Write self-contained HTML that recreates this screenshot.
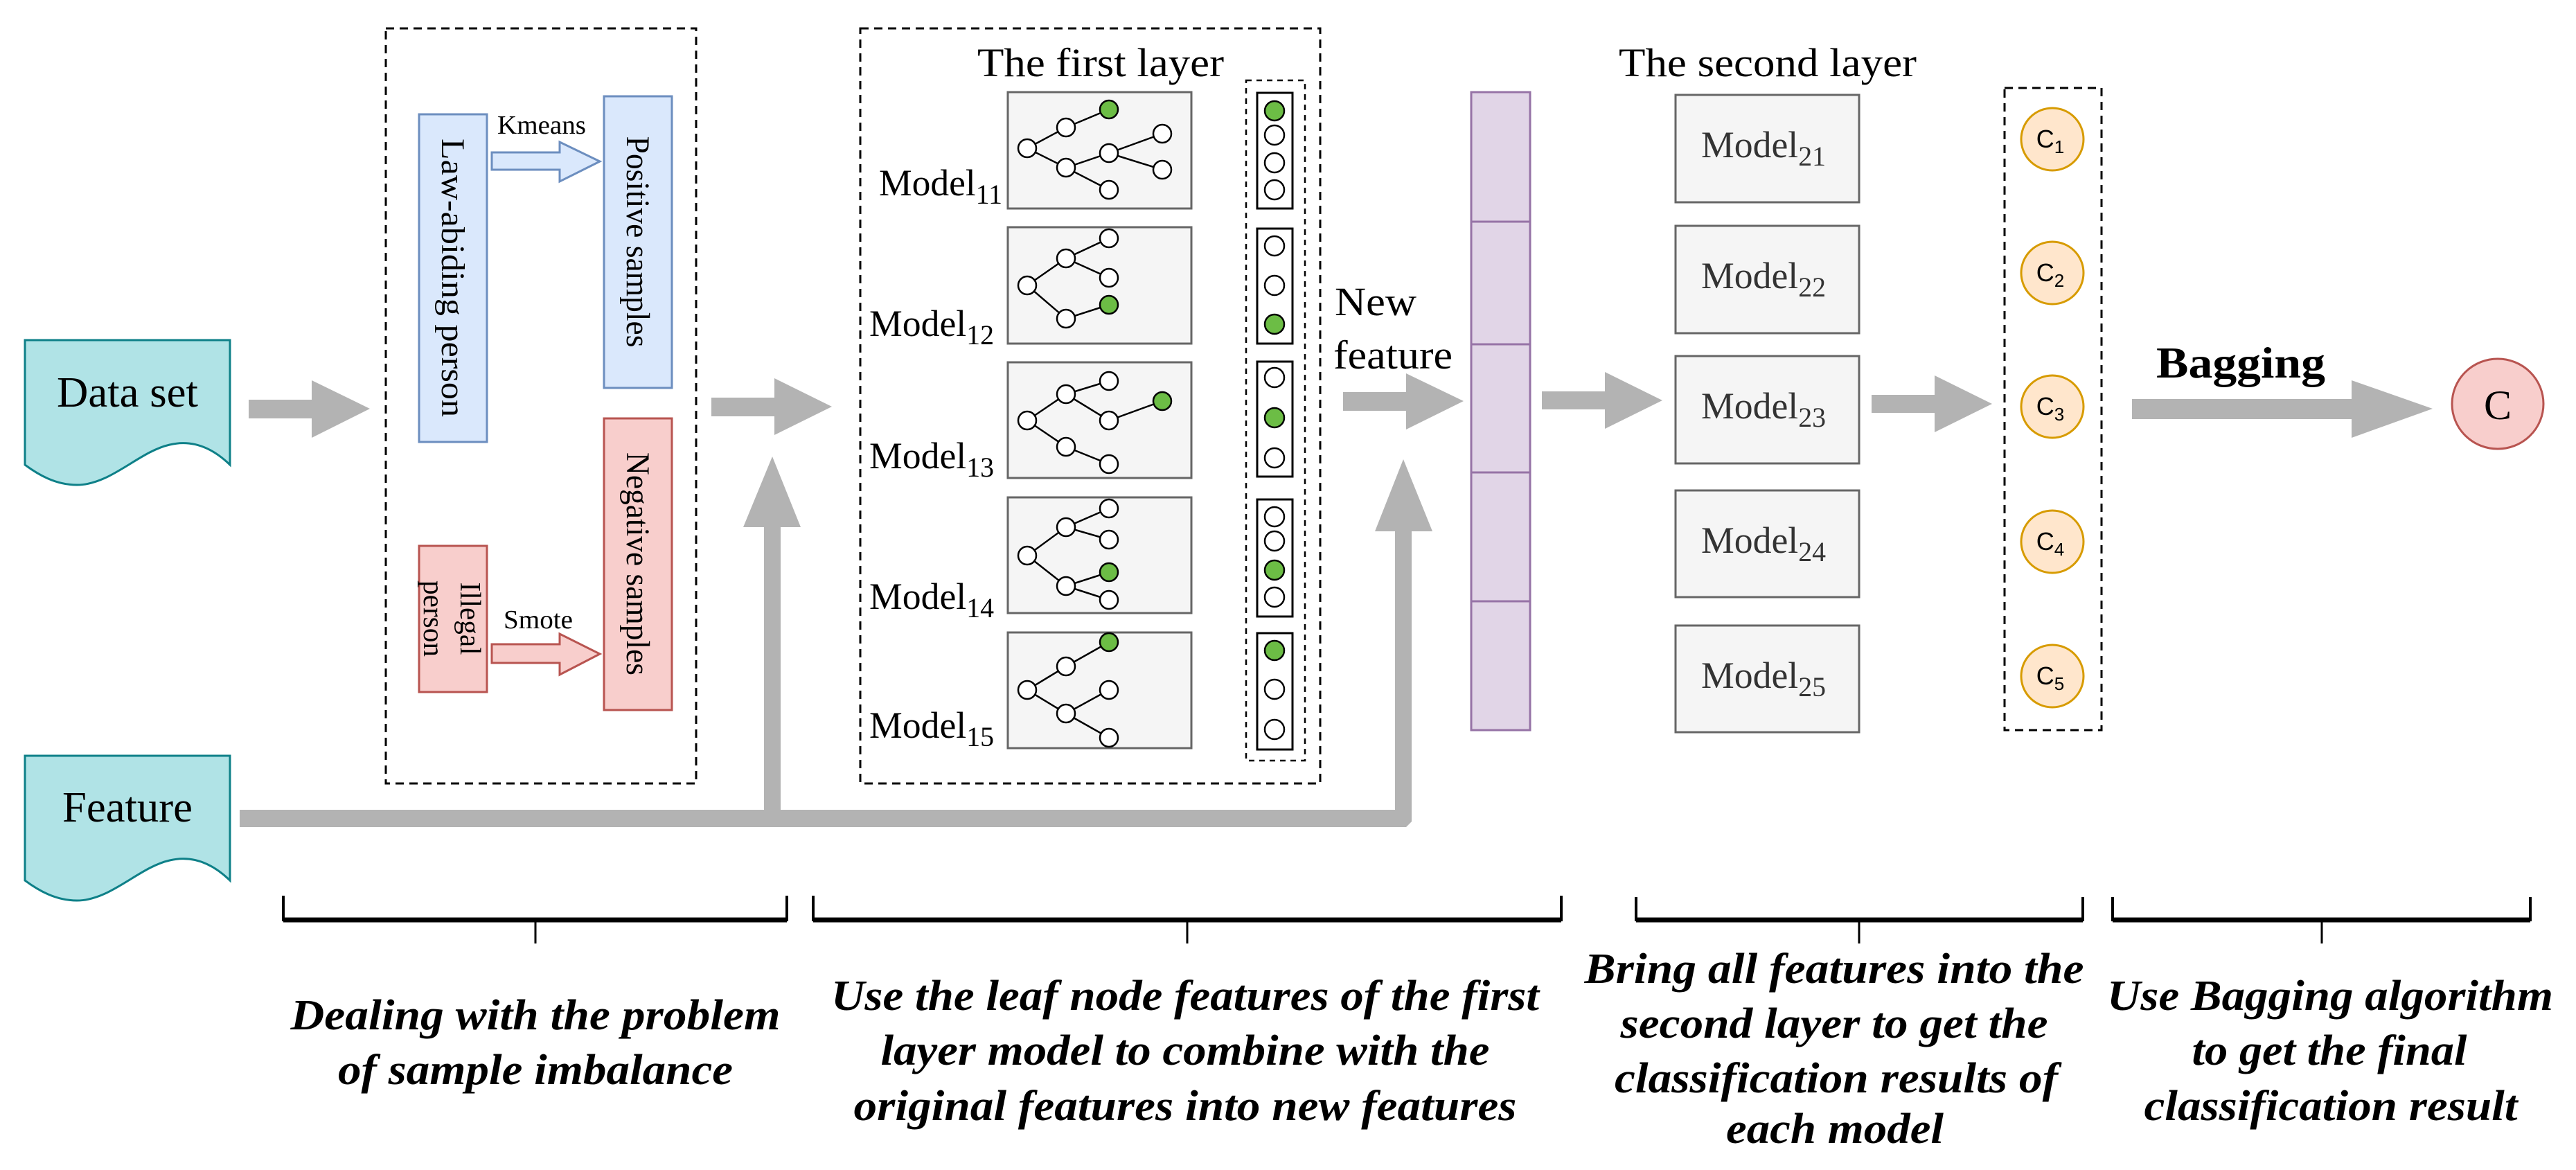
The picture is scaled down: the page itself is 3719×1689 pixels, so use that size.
<!DOCTYPE html>
<html><head><meta charset="utf-8"><style>html,body{margin:0;padding:0;background:#fff}svg{display:block;font-family:"Liberation Serif","Times New Roman",serif}text{font-family:"Liberation Serif","Times New Roman",serif}</style></head>
<body>
<svg xmlns="http://www.w3.org/2000/svg" width="3719" height="1689" viewBox="0 0 3719 1689">
<rect width="3719" height="1689" fill="#fff"/>
<path d="M36,491 H332 V671 C300,640 270,636 245,642 C200,652 160,700 111,700 C80,700 55,685 36,671 Z" fill="#b0e3e6" stroke="#0e8088" stroke-width="3"/>
<path transform="translate(0,600)" d="M36,491 H332 V671 C300,640 270,636 245,642 C200,652 160,700 111,700 C80,700 55,685 36,671 Z" fill="#b0e3e6" stroke="#0e8088" stroke-width="3"/>
<text x="184" y="587" font-size="62" text-anchor="middle" textLength="204" lengthAdjust="spacingAndGlyphs">Data set</text>
<text x="184" y="1186" font-size="62" text-anchor="middle" textLength="188" lengthAdjust="spacingAndGlyphs">Feature</text>

<g fill="#b3b3b3">
<polygon points="359,577 450,577 450,549 534,590 450,632 450,604 359,604"/>
<polygon points="1027,574 1118,574 1118,546 1201,587 1118,628 1118,601 1027,601"/>
<polygon points="1939,566 2030,566 2030,539 2113,579 2030,620 2030,593 1939,593"/>
<polygon points="2226,565 2317,565 2317,537 2400,578 2317,619 2317,591 2226,591"/>
<polygon points="2702,570 2793,570 2793,542 2876,583 2793,624 2793,596 2702,596"/>
<polygon points="3078,576 3395,576 3395,549 3512,590 3395,632 3395,605 3078,605"/>
<polygon points="346,1169 1103,1169 1103,761 1073,761 1115,659 1156,761 1127,761 1127,1169 2014,1169 2014,767 1985,767 2026,663 2068,767 2038,767 2038,1186 2030,1194 346,1194"/>
</g>

<rect x="557" y="41" width="448" height="1090" fill="none" stroke="#000" stroke-width="3" stroke-dasharray="12,8"/>
<rect x="605" y="165" width="98" height="473" fill="#dae8fc" stroke="#6c8ebf" stroke-width="3"/>
<rect x="872" y="139" width="98" height="421" fill="#dae8fc" stroke="#6c8ebf" stroke-width="3"/>
<rect x="605" y="788" width="98" height="211" fill="#f8cecc" stroke="#b85450" stroke-width="3"/>
<rect x="872" y="604" width="98" height="421" fill="#f8cecc" stroke="#b85450" stroke-width="3"/>
<text transform="translate(638,401) rotate(90)" font-size="48" text-anchor="middle" textLength="402" lengthAdjust="spacingAndGlyphs">Law-abiding person</text>
<text transform="translate(905,349) rotate(90)" font-size="48" text-anchor="middle" textLength="305" lengthAdjust="spacingAndGlyphs">Positive samples</text>
<text transform="translate(905,814) rotate(90)" font-size="48" text-anchor="middle" textLength="322" lengthAdjust="spacingAndGlyphs">Negative samples</text>
<text transform="translate(665,893) rotate(90)" font-size="42" text-anchor="middle" textLength="105" lengthAdjust="spacingAndGlyphs">Illegal</text>
<text transform="translate(612,893) rotate(90)" font-size="42" text-anchor="middle" textLength="110" lengthAdjust="spacingAndGlyphs">person</text>
<text x="782" y="193" font-size="38" text-anchor="middle" textLength="128" lengthAdjust="spacingAndGlyphs">Kmeans</text>
<text x="777" y="907" font-size="38" text-anchor="middle" textLength="100" lengthAdjust="spacingAndGlyphs">Smote</text>
<polygon points="710,220 808,220 808,205 866,233 808,262 808,245 710,245" fill="#dae8fc" stroke="#6c8ebf" stroke-width="3"/>
<polygon points="710,930 808,930 808,915 866,944 808,974 808,957 710,957" fill="#f8cecc" stroke="#b85450" stroke-width="3"/>

<rect x="1242" y="41" width="664" height="1090" fill="none" stroke="#000" stroke-width="3" stroke-dasharray="12,8"/>
<text x="1589" y="110" font-size="58" text-anchor="middle" textLength="356" lengthAdjust="spacingAndGlyphs">The first layer</text>
<g fill="#f5f5f5" stroke="#666" stroke-width="3">
<rect x="1455" y="133" width="265" height="168"/>
<rect x="1455" y="328" width="265" height="168"/>
<rect x="1455" y="523" width="265" height="167"/>
<rect x="1455" y="718" width="265" height="167"/>
<rect x="1455" y="913" width="265" height="167"/>
</g>
<g font-size="54">
<text x="1269" y="282" textLength="178" lengthAdjust="spacingAndGlyphs">Model<tspan font-size="40" dy="12">11</tspan></text>
<text x="1255" y="485" textLength="180" lengthAdjust="spacingAndGlyphs">Model<tspan font-size="40" dy="12">12</tspan></text>
<text x="1255" y="676" textLength="180" lengthAdjust="spacingAndGlyphs">Model<tspan font-size="40" dy="12">13</tspan></text>
<text x="1255" y="879" textLength="180" lengthAdjust="spacingAndGlyphs">Model<tspan font-size="40" dy="12">14</tspan></text>
<text x="1255" y="1065" textLength="180" lengthAdjust="spacingAndGlyphs">Model<tspan font-size="40" dy="12">15</tspan></text>
</g>
<g stroke="#000" stroke-width="2.5" fill="none">
<path d="M1483,214 L1539,184 L1601,158 M1483,214 L1539,242 L1601,221 L1678,193 M1601,221 L1678,245 M1539,242 L1601,274"/>
<path d="M1483,412 L1539,373 L1601,344 M1539,373 L1601,401 M1483,412 L1539,460 L1601,440"/>
<path d="M1483,607 L1539,569 L1601,550 M1539,569 L1601,607 L1678,579 M1483,607 L1539,645 L1601,670"/>
<path d="M1483,802 L1539,761 L1601,734 M1539,761 L1601,779 M1483,802 L1539,846 L1601,826 M1539,846 L1601,866"/>
<path d="M1483,996 L1539,962 L1601,927 M1483,996 L1539,1030 L1601,996 M1539,1030 L1601,1065"/>
</g>
<g stroke="#000" stroke-width="2.5" fill="#fff">
<circle cx="1483" cy="214" r="13"/><circle cx="1539" cy="184" r="13"/><circle cx="1601" cy="158" r="13" fill="#6cbd45"/><circle cx="1539" cy="242" r="13"/><circle cx="1601" cy="221" r="13"/><circle cx="1678" cy="193" r="13"/><circle cx="1678" cy="245" r="13"/><circle cx="1601" cy="274" r="13"/>
<circle cx="1483" cy="412" r="13"/><circle cx="1539" cy="373" r="13"/><circle cx="1601" cy="344" r="13"/><circle cx="1601" cy="401" r="13"/><circle cx="1539" cy="460" r="13"/><circle cx="1601" cy="440" r="13" fill="#6cbd45"/>
<circle cx="1483" cy="607" r="13"/><circle cx="1539" cy="569" r="13"/><circle cx="1601" cy="550" r="13"/><circle cx="1601" cy="607" r="13"/><circle cx="1678" cy="579" r="13" fill="#6cbd45"/><circle cx="1539" cy="645" r="13"/><circle cx="1601" cy="670" r="13"/>
<circle cx="1483" cy="802" r="13"/><circle cx="1539" cy="761" r="13"/><circle cx="1601" cy="734" r="13"/><circle cx="1601" cy="779" r="13"/><circle cx="1539" cy="846" r="13"/><circle cx="1601" cy="826" r="13" fill="#6cbd45"/><circle cx="1601" cy="866" r="13"/>
<circle cx="1483" cy="996" r="13"/><circle cx="1539" cy="962" r="13"/><circle cx="1601" cy="927" r="13" fill="#6cbd45"/><circle cx="1601" cy="996" r="13"/><circle cx="1539" cy="1030" r="13"/><circle cx="1601" cy="1065" r="13"/>
</g>
<rect x="1799" y="116" width="85" height="982" fill="none" stroke="#000" stroke-width="2.5" stroke-dasharray="8,7"/>
<g fill="#fff" stroke="#000" stroke-width="3">
<rect x="1815" y="134" width="51" height="167"/>
<rect x="1815" y="330" width="51" height="166"/>
<rect x="1815" y="522" width="51" height="166"/>
<rect x="1815" y="721" width="51" height="169"/>
<rect x="1815" y="914" width="51" height="168"/>
</g>
<g stroke="#000" stroke-width="2.5" fill="#fff">
<circle cx="1840" cy="160" r="14" fill="#6cbd45"/><circle cx="1840" cy="195" r="14"/><circle cx="1840" cy="235" r="14"/><circle cx="1840" cy="274" r="14"/>
<circle cx="1840" cy="355" r="14"/><circle cx="1840" cy="412" r="14"/><circle cx="1840" cy="468" r="14" fill="#6cbd45"/>
<circle cx="1840" cy="545" r="14"/><circle cx="1840" cy="603" r="14" fill="#6cbd45"/><circle cx="1840" cy="661" r="14"/>
<circle cx="1840" cy="746" r="14"/><circle cx="1840" cy="781" r="14"/><circle cx="1840" cy="823" r="14" fill="#6cbd45"/><circle cx="1840" cy="862" r="14"/>
<circle cx="1840" cy="939" r="14" fill="#6cbd45"/><circle cx="1840" cy="995" r="14"/><circle cx="1840" cy="1053" r="14"/>
</g>

<text x="1986" y="455" font-size="58" text-anchor="middle" textLength="118" lengthAdjust="spacingAndGlyphs">New</text>
<text x="2011" y="532" font-size="58" text-anchor="middle" textLength="172" lengthAdjust="spacingAndGlyphs">feature</text>

<g fill="#e1d5e7" stroke="#9673a6" stroke-width="3">
<rect x="2124" y="133" width="85" height="187"/>
<rect x="2124" y="320" width="85" height="177"/>
<rect x="2124" y="497" width="85" height="185"/>
<rect x="2124" y="682" width="85" height="186"/>
<rect x="2124" y="868" width="85" height="186"/>
</g>

<text x="2552" y="110" font-size="58" text-anchor="middle" textLength="430" lengthAdjust="spacingAndGlyphs">The second layer</text>
<g fill="#f5f5f5" stroke="#666" stroke-width="3">
<rect x="2419" y="137" width="265" height="155"/>
<rect x="2419" y="326" width="265" height="155"/>
<rect x="2419" y="514" width="265" height="155"/>
<rect x="2419" y="708" width="265" height="154"/>
<rect x="2419" y="903" width="265" height="154"/>
</g>
<g font-size="54" fill="#333">
<text x="2456" y="227" textLength="180" lengthAdjust="spacingAndGlyphs">Model<tspan font-size="40" dy="12">21</tspan></text>
<text x="2456" y="416" textLength="180" lengthAdjust="spacingAndGlyphs">Model<tspan font-size="40" dy="12">22</tspan></text>
<text x="2456" y="604" textLength="180" lengthAdjust="spacingAndGlyphs">Model<tspan font-size="40" dy="12">23</tspan></text>
<text x="2456" y="798" textLength="180" lengthAdjust="spacingAndGlyphs">Model<tspan font-size="40" dy="12">24</tspan></text>
<text x="2456" y="993" textLength="180" lengthAdjust="spacingAndGlyphs">Model<tspan font-size="40" dy="12">25</tspan></text>
</g>

<rect x="2894" y="127" width="140" height="927" fill="none" stroke="#000" stroke-width="3" stroke-dasharray="12,8"/>
<g fill="#ffe6cc" stroke="#d79b00" stroke-width="3">
<circle cx="2963" cy="201" r="45"/><circle cx="2963" cy="394" r="45"/><circle cx="2963" cy="587" r="45"/><circle cx="2963" cy="782" r="45"/><circle cx="2963" cy="976" r="45"/>
</g>
<g style="font-family:'Liberation Sans',sans-serif" font-size="36" text-anchor="middle">
<text style="font-family:'Liberation Sans',sans-serif" x="2960" y="213">C<tspan font-size="26" dy="8">1</tspan></text>
<text style="font-family:'Liberation Sans',sans-serif" x="2960" y="406">C<tspan font-size="26" dy="8">2</tspan></text>
<text style="font-family:'Liberation Sans',sans-serif" x="2960" y="599">C<tspan font-size="26" dy="8">3</tspan></text>
<text style="font-family:'Liberation Sans',sans-serif" x="2960" y="794">C<tspan font-size="26" dy="8">4</tspan></text>
<text style="font-family:'Liberation Sans',sans-serif" x="2960" y="988">C<tspan font-size="26" dy="8">5</tspan></text>
</g>
<text x="3235" y="545" font-size="64" font-weight="bold" text-anchor="middle" textLength="244" lengthAdjust="spacingAndGlyphs">Bagging</text>
<ellipse cx="3606" cy="583" rx="66" ry="65" fill="#f8cecc" stroke="#b85450" stroke-width="3"/>
<text x="3606" y="605" font-size="60" text-anchor="middle">C</text>

<g stroke="#000" fill="none">
<path d="M409,1293 V1328 H1136 V1293" stroke-width="4"/>
<path d="M409,1328 H1136" stroke-width="7"/>
<path d="M773,1330 V1362" stroke-width="3"/>
<path d="M1174,1293 V1328 H2254 V1293" stroke-width="4"/>
<path d="M1174,1328 H2254" stroke-width="7"/>
<path d="M1714,1330 V1362" stroke-width="3"/>
<path d="M2362,1295 V1328 H3007 V1295" stroke-width="4"/>
<path d="M2362,1328 H3007" stroke-width="7"/>
<path d="M2684,1330 V1362" stroke-width="3"/>
<path d="M3050,1295 V1328 H3653 V1295" stroke-width="4"/>
<path d="M3050,1328 H3653" stroke-width="7"/>
<path d="M3352,1330 V1362" stroke-width="3"/>
</g>
<g font-size="62" font-weight="bold" font-style="italic" text-anchor="middle">
<text x="773" y="1486" textLength="707" lengthAdjust="spacingAndGlyphs">Dealing with the problem</text>
<text x="773" y="1565" textLength="570" lengthAdjust="spacingAndGlyphs">of sample imbalance</text>
<text x="1711" y="1458" textLength="1022" lengthAdjust="spacingAndGlyphs">Use the leaf node features of the first</text>
<text x="1711" y="1537" textLength="879" lengthAdjust="spacingAndGlyphs">layer model to combine with the</text>
<text x="1711" y="1617" textLength="957" lengthAdjust="spacingAndGlyphs">original features into new features</text>
<text x="2648" y="1419" textLength="721" lengthAdjust="spacingAndGlyphs">Bring all features into the</text>
<text x="2648" y="1498" textLength="617" lengthAdjust="spacingAndGlyphs">second layer to get the</text>
<text x="2651" y="1577" textLength="640" lengthAdjust="spacingAndGlyphs">classification results of</text>
<text x="2649" y="1650" textLength="314" lengthAdjust="spacingAndGlyphs">each model</text>
<text x="3364" y="1458" textLength="644" lengthAdjust="spacingAndGlyphs">Use Bagging algorithm</text>
<text x="3363" y="1537" textLength="397" lengthAdjust="spacingAndGlyphs">to get the final</text>
<text x="3365" y="1617" textLength="539" lengthAdjust="spacingAndGlyphs">classification result</text>
</g>
</svg>
</body></html>
